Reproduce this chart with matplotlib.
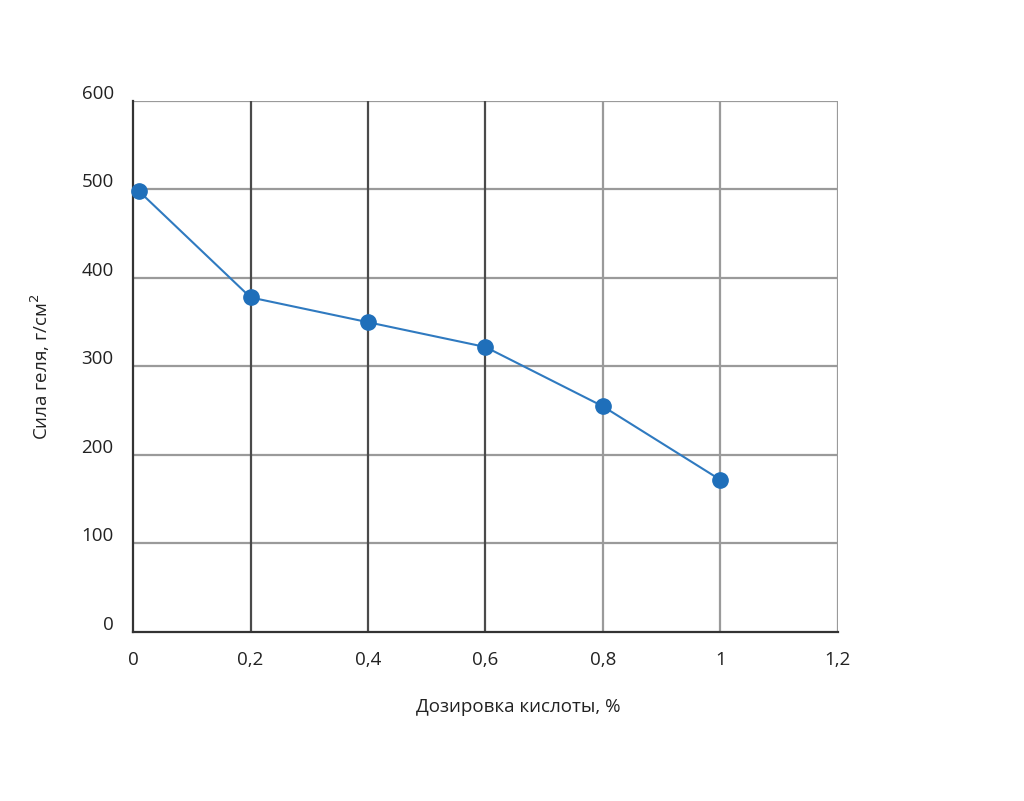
import matplotlib
matplotlib.use("Agg")
import matplotlib.pyplot as plt

dose = [0.01, 0.2, 0.4, 0.6, 0.8, 1.0]
strength = [498, 378, 350, 322, 255, 172]
xticks = [0, 0.2, 0.4, 0.6, 0.8, 1.0, 1.2]
xlabels = ["0", "0,2", "0,4", "0,6", "0,8", "1", "1,2"]
yticks = [0, 100, 200, 300, 400, 500, 600]

plt.rcParams['font.family'] = ['Open Sans', 'DejaVu Sans']
fig = plt.figure(figsize=(10.24, 8.01), dpi=100)
ax = fig.add_axes([0.130, 0.211, 0.688, 0.663])
ax.set_xlim(0, 1.2)
ax.set_ylim(0, 600)
for y in yticks[1:]:
    ax.axhline(y, color='#9a9a9a', lw=1.6, zorder=1)
for x in xticks[1:]:
    c = '#4a4a4a' if x in (0.2, 0.4, 0.6) else '#9a9a9a'
    ax.axvline(x, color=c, lw=1.6, zorder=1)
ax.plot(dose, strength, color='#2f7ac0', lw=1.5, marker='o', ms=11,
        markerfacecolor='#1f6fba', markeredgecolor='#1f6fba', zorder=3, clip_on=False)
ax.set_xticks(xticks)
ax.set_xticklabels(xlabels)
ax.set_yticks(yticks)
ax.tick_params(length=0, labelsize=13.5, colors='#222222')
ax.tick_params(axis='x', pad=14)
ax.tick_params(axis='y', pad=14)
for lab in ax.get_yticklabels():
    lab.set_verticalalignment('center')
    lab.set_y(lab.get_position()[1])
import matplotlib.transforms as mtrans
off = mtrans.ScaledTranslation(0, 7/100, fig.dpi_scale_trans)
for lab in ax.get_yticklabels():
    lab.set_transform(lab.get_transform() + off)
for s in ['top', 'right']:
    ax.spines[s].set_visible(False)
for s in ['left', 'bottom']:
    ax.spines[s].set_color('#333333')
    ax.spines[s].set_linewidth(1.6)
ax.set_xlabel("Дозировка кислоты, %", fontsize=13.5, labelpad=20, color='#222222')
ax.xaxis.set_label_coords(0.547, -0.125)
ax.set_ylabel("Сила геля, г/см$^2$", fontsize=13.5, color='#222222')
ax.yaxis.set_label_coords(-0.115, 0.5)
fig.savefig("out.png", dpi=100)
